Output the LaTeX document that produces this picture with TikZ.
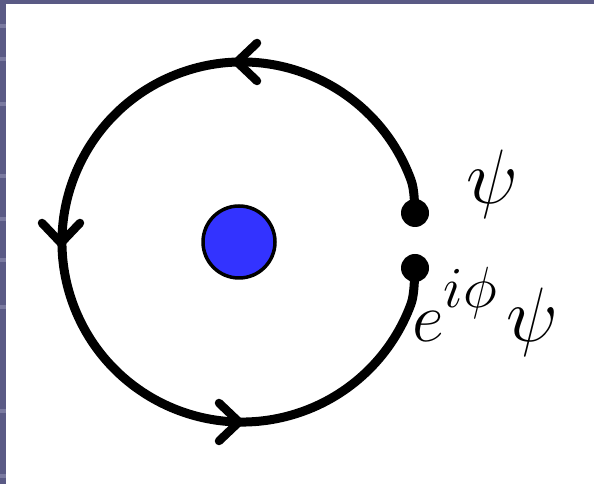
\documentclass[tikz,border=0pt]{standalone}
\usepackage{graphicx}
\definecolor{frame}{RGB}{90,90,133}
\definecolor{framelight}{RGB}{122,122,160}
\definecolor{dotblue}{RGB}{51,51,255}
\tikzset{
  loopline/.style={line width=9pt, line cap=round},
  chev/.style={line width=8.5pt, line cap=round, line join=round},
  enddot/.style={circle, fill=black, inner sep=0pt, minimum size=28pt},
  charge/.style={circle, draw=black, line width=3.5pt, fill=dotblue, inner sep=0pt, minimum size=72pt},
  lbl/.style={inner sep=0pt, font=\Huge}
}
\begin{document}
\begin{tikzpicture}[x=1pt,y=1pt]
\useasboundingbox (0,0) rectangle (594,484);
% frame
\fill[frame] (0,0) rectangle (594,484);
\fill[white] (6,0) rectangle (594,480);
\foreach \yy in {24,57,102,174,217,258,305,409,474}
  \fill[framelight] (0,484-\yy) rectangle (6,480-\yy);
% centre and charge
\coordinate (O) at (242,242);
\node[charge] (q) at (239,242) {};
% end dots
\node[enddot] (top) at (415,271) {};
\node[enddot] (bot) at (415,216) {};
\path (O) ++(20:180) coordinate (p1);
\path (O) ++(340:180) coordinate (p2);
% loop: counterclockwise from psi to e^{i phi} psi
\draw[loopline] (top.center) .. controls (414.5,279) and (414.5,294.2) .. (p1)
  arc[start angle=20, end angle=340, radius=180]
  .. controls (414.5,189.8) and (414.5,208) .. (bot.center);
% arrowheads on the loop
\path (O) ++(90:180) coordinate (a1);
\path (O) ++(180:181) coordinate (a2);
\path (O) ++(270:180) coordinate (a3);
\draw[chev] ([shift={(-5,0)}]a1) ++(20,19) -- ++(-20,-19) -- ++(20,-19);
\draw[chev] ([shift={(0,-1)}]a2) ++(-19,20) -- ++(19,-20) -- ++(19,20);
\draw[chev] ([shift={(-3,0)}]a3) ++(-20,19) -- ++(20,-19) -- ++(-20,-19);
% labels
\node[lbl] (psi) at (492,300) {\scalebox{3.1}{$\psi$}};
\node[lbl, anchor=base west] (epsi) at (412,142)
  {\scalebox{2.8}{$e$}\raisebox{34pt}{\scalebox{2.8}{$\scriptstyle i\phi$}}\hspace{10pt}\scalebox{3.1}{$\psi$}};
\end{tikzpicture}
\end{document}
